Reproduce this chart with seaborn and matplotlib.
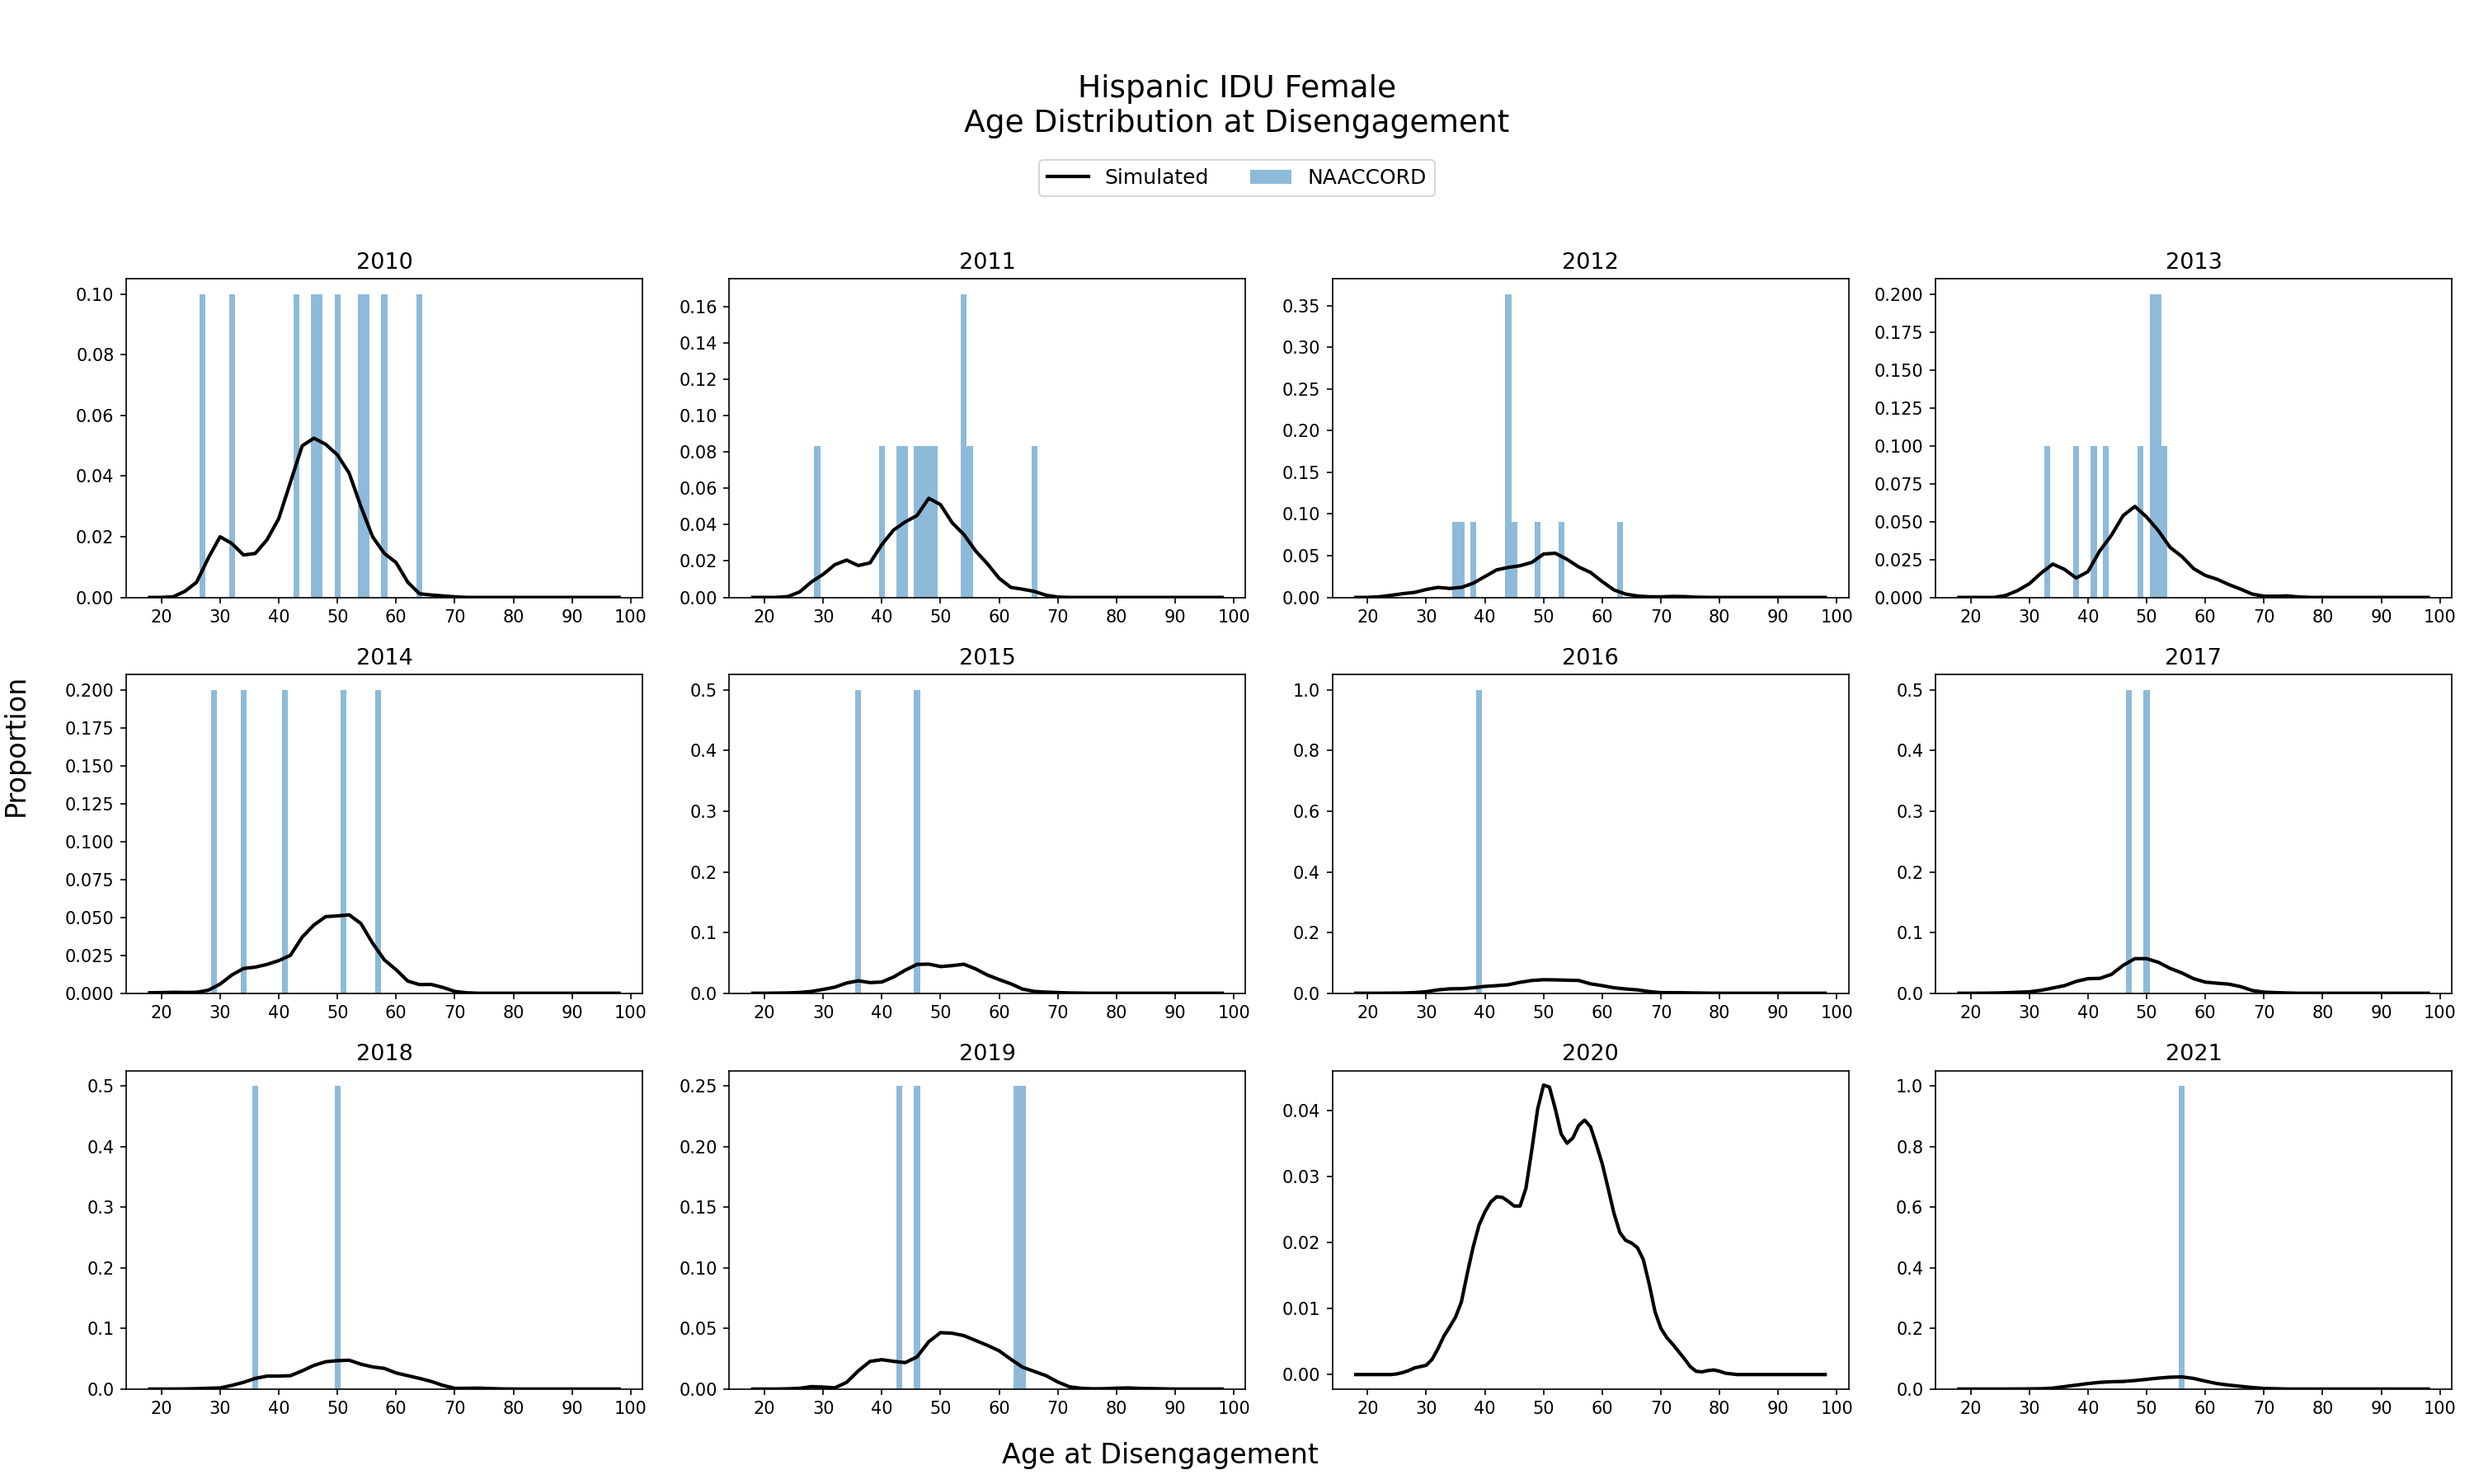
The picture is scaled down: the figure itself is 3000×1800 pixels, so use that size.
import matplotlib
matplotlib.use('Agg')
import matplotlib.pyplot as plt
from matplotlib.lines import Line2D
from matplotlib.patches import Patch
import seaborn as sns

YEARS = [2010, 2011, 2012, 2013, 2014, 2015, 2016, 2017, 2018, 2019, 2020, 2021]
TICKS = [20, 30, 40, 50, 60, 70, 80, 90, 100]

# NAACCORD observed ages at disengagement (one entry per person)
NAACCORD_2010 = [27, 32, 43, 46, 47, 50, 54, 55, 58, 64]
NAACCORD_2011 = [29, 40, 43, 44, 46, 47, 48, 49, 54, 54, 55, 66]
NAACCORD_2012 = [35, 36, 38, 44, 44, 44, 44, 45, 49, 53, 63]
NAACCORD_2013 = [33, 38, 41, 43, 49, 51, 51, 52, 52, 53]
NAACCORD_2014 = [29, 34, 41, 51, 57]
NAACCORD_2015 = [36, 46]
NAACCORD_2016 = [39]
NAACCORD_2017 = [47, 50]
NAACCORD_2018 = [36, 50]
NAACCORD_2019 = [43, 46, 63, 64]
NAACCORD_2020 = []
NAACCORD_2021 = [56]

# Simulated age distribution (proportion by age)
SIM_AGES = [18, 20, 22, 24, 26, 28, 30, 32, 34, 36, 38, 40, 42, 44, 46, 48, 50, 52,
            54, 56, 58, 60, 62, 64, 66, 68, 70, 72, 74, 76, 78, 80, 82, 84, 90, 98]
SIM_2010 = [0, 0, 0.0002, 0.002, 0.005, 0.013, 0.020, 0.0178, 0.014, 0.0145, 0.019, 0.026,
            0.038, 0.050, 0.0525, 0.0505, 0.047, 0.041, 0.030, 0.020, 0.0145, 0.0115, 0.005,
            0.0012, 0.0008, 0.0005, 0.0002, 0, 0, 0, 0, 0, 0, 0, 0, 0]
SIM_2011 = [0, 0, 0, 0.0005, 0.003, 0.0085, 0.0127, 0.018, 0.0205, 0.0175, 0.019, 0.029,
            0.037, 0.0415, 0.045, 0.0545, 0.051, 0.041, 0.0345, 0.0255, 0.0185, 0.0105,
            0.0055, 0.0045, 0.0033, 0.0012, 0.0002, 0, 0, 0, 0, 0, 0, 0, 0, 0]
SIM_2012 = [0, 0, 0.0008, 0.0025, 0.0045, 0.006, 0.0095, 0.012, 0.0108, 0.012, 0.017, 0.025,
            0.033, 0.036, 0.038, 0.042, 0.052, 0.053, 0.0457, 0.0365, 0.030, 0.019, 0.009,
            0.004, 0.0017, 0.0008, 0.0007, 0.0012, 0.0010, 0.0003, 0, 0, 0, 0, 0, 0]
SIM_2013 = [0, 0, 0, 0, 0.0013, 0.0045, 0.009, 0.016, 0.022, 0.0185, 0.0128, 0.017, 0.0306,
            0.041, 0.054, 0.060, 0.053, 0.044, 0.033, 0.027, 0.019, 0.0145, 0.012, 0.0085,
            0.0055, 0.0022, 0.0008, 0.0008, 0.0010, 0.0003, 0, 0, 0, 0, 0, 0]
SIM_2014 = [0.0003, 0.0004, 0.0006, 0.0005, 0.0006, 0.002, 0.006, 0.012, 0.0163, 0.0172,
            0.019, 0.0215, 0.025, 0.037, 0.045, 0.0505, 0.051, 0.0517, 0.046, 0.033, 0.022,
            0.0155, 0.008, 0.0057, 0.0058, 0.0038, 0.0012, 0.0003, 0, 0, 0, 0, 0, 0, 0, 0]
SIM_2015 = [0, 0, 0.0002, 0.0005, 0.0012, 0.003, 0.0063, 0.010, 0.0168, 0.0205, 0.0175,
            0.0185, 0.0267, 0.038, 0.0475, 0.048, 0.044, 0.0455, 0.0478, 0.040, 0.030,
            0.0225, 0.0155, 0.0068, 0.003, 0.0018, 0.0011, 0.0005, 0.0002, 0, 0, 0, 0, 0, 0, 0]
SIM_2016 = [0, 0, 0, 0.0003, 0.0006, 0.002, 0.005, 0.011, 0.0145, 0.015, 0.018, 0.0225,
            0.025, 0.028, 0.036, 0.042, 0.0445, 0.044, 0.043, 0.042, 0.031, 0.025, 0.018,
            0.014, 0.011, 0.0055, 0.0018, 0.0018, 0.0015, 0.0008, 0.0003, 0, 0, 0, 0, 0]
SIM_2017 = [0, 0, 0.0001, 0.0003, 0.0008, 0.0016, 0.0023, 0.0048, 0.0086, 0.0125, 0.0195,
            0.024, 0.0244, 0.031, 0.046, 0.057, 0.057, 0.051, 0.041, 0.0335, 0.024, 0.0183,
            0.0165, 0.015, 0.011, 0.0045, 0.0018, 0.001, 0.0004, 0, 0, 0, 0, 0, 0, 0]
SIM_2018 = [0, 0, 0, 0.0002, 0.0006, 0.0012, 0.0018, 0.006, 0.011, 0.0175, 0.0213, 0.0213,
            0.022, 0.030, 0.039, 0.045, 0.0468, 0.0475, 0.041, 0.0365, 0.034, 0.0265, 0.022,
            0.0175, 0.0125, 0.006, 0.0012, 0.0012, 0.0015, 0.0008, 0.0002, 0, 0, 0, 0, 0]
SIM_2019 = [0, 0, 0, 0.0002, 0.0006, 0.002, 0.0016, 0.001, 0.0055, 0.015, 0.0228, 0.0242,
            0.0228, 0.0218, 0.0265, 0.039, 0.0465, 0.046, 0.044, 0.040, 0.036, 0.0315,
            0.0245, 0.018, 0.0145, 0.011, 0.0058, 0.0018, 0.0006, 0.0002, 0.0003, 0.0007,
            0.0009, 0.0005, 0, 0]
SIM_2021 = [0, 0, 0, 0, 0, 0.0002, 0.0005, 0.001, 0.003, 0.008, 0.013, 0.018, 0.022, 0.024,
            0.025, 0.028, 0.032, 0.036, 0.039, 0.040, 0.035, 0.026, 0.018, 0.013, 0.009,
            0.005, 0.002, 0.001, 0, 0, 0, 0, 0, 0, 0, 0]

# 2020 read at one-year steps (jagged curve)
SIM_AGES_2020 = [18, 20, 22, 24, 25, 26, 27, 28, 29, 30, 31, 32, 33, 34, 35, 36, 37, 38, 39,
                 40, 41, 42, 43, 44, 45, 46, 47, 48, 49, 50, 51, 52, 53, 54, 55, 56, 57, 58,
                 59, 60, 61, 62, 63, 64, 65, 66, 67, 68, 69, 70, 71, 72, 73, 74, 75, 76, 77,
                 78, 79, 80, 81, 82, 83, 86, 90, 98]
SIM_2020 = [0, 0, 0, 0, 0.0001, 0.0003, 0.0006, 0.001, 0.0012, 0.0014, 0.0023, 0.0039,
            0.0058, 0.0072, 0.0087, 0.011, 0.0153, 0.0193, 0.0226, 0.0246, 0.0261, 0.0269,
            0.0268, 0.0262, 0.0255, 0.0255, 0.0282, 0.034, 0.0402, 0.0438, 0.0435, 0.0402,
            0.0364, 0.035, 0.0358, 0.0377, 0.0385, 0.0375, 0.0348, 0.0319, 0.0282, 0.0244,
            0.0215, 0.0203, 0.0199, 0.0192, 0.0174, 0.0137, 0.0095, 0.007, 0.0056, 0.0046,
            0.0035, 0.0024, 0.0012, 0.0005, 0.0004, 0.0006, 0.0007, 0.0005, 0.0002, 0.0001,
            0, 0, 0, 0]

naaccord = {
    2010: NAACCORD_2010, 2011: NAACCORD_2011, 2012: NAACCORD_2012, 2013: NAACCORD_2013,
    2014: NAACCORD_2014, 2015: NAACCORD_2015, 2016: NAACCORD_2016, 2017: NAACCORD_2017,
    2018: NAACCORD_2018, 2019: NAACCORD_2019, 2020: NAACCORD_2020, 2021: NAACCORD_2021,
}
simulated = {
    2010: (SIM_AGES, SIM_2010), 2011: (SIM_AGES, SIM_2011), 2012: (SIM_AGES, SIM_2012),
    2013: (SIM_AGES, SIM_2013), 2014: (SIM_AGES, SIM_2014), 2015: (SIM_AGES, SIM_2015),
    2016: (SIM_AGES, SIM_2016), 2017: (SIM_AGES, SIM_2017), 2018: (SIM_AGES, SIM_2018),
    2019: (SIM_AGES, SIM_2019), 2020: (SIM_AGES_2020, SIM_2020), 2021: (SIM_AGES, SIM_2021),
}

BAR_COLOR = '#1f77b4'

fig, axes = plt.subplots(3, 4, figsize=(20, 12), dpi=150)
fig.subplots_adjust(left=0.051, right=0.991, bottom=0.064, top=0.812,
                    wspace=0.168, hspace=0.243)

for ax, year in zip(axes.flat, YEARS):
    # observed data as one-year bins, simulated curve on top
    if naaccord[year]:
        sns.histplot(x=naaccord[year], discrete=True, stat='proportion',
                     color=BAR_COLOR, alpha=0.5, linewidth=0, ax=ax)
    ages, sim = simulated[year]
    sns.lineplot(x=ages, y=sim, color='black', linewidth=2, ax=ax)
    ax.set_title(str(year), fontsize=13)
    ax.set_xlabel('')
    ax.set_ylabel('')
    ax.set_xticks(TICKS)

handles = [Line2D([0], [0], color='black', linewidth=2),
           Patch(facecolor=BAR_COLOR, alpha=0.5)]
fig.legend(handles, ['Simulated', 'NAACCORD'], loc='center',
           bbox_to_anchor=(0.5, 0.880), ncol=2, fontsize=12)

fig.suptitle('Hispanic IDU Female\nAge Distribution at Disengagement', fontsize=18, y=0.950)
fig.text(0.469, 0.019, 'Age at Disengagement', ha='center', va='center', fontsize=16)
fig.text(0.0065, 0.498, 'Proportion', rotation=90, ha='center', va='center', fontsize=16)

fig.savefig('out.png', dpi=150)
